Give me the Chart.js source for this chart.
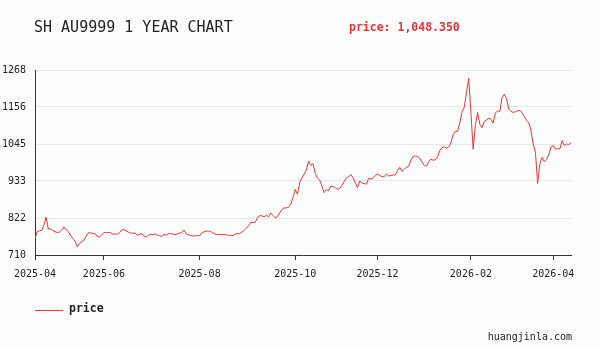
<!DOCTYPE html>
<html>
<head>
<meta charset="utf-8">
<script src="https://cdn.jsdelivr.net/npm/chart.js@4"></script>
<style>
  html, body { margin: 0; padding: 0; background: #fcfefc; }
  #wrap { width: 600px; height: 350px; }
</style>
</head>
<body>
<div id="wrap"><canvas id="chartJSContainer" width="600" height="350"></canvas></div>
<script>

// daily closes, one per trading day
var prices = [
    760, 780, 783, 784, 800, 824, 788, 789, 784, 780,
    778, 779, 785, 795, 786, 781, 769, 760, 752, 735,
    745, 750, 755, 767, 777, 777, 775, 774, 766, 764,
    770, 778, 778, 778, 777, 773, 773, 773, 777, 786,
    786, 783, 779, 776, 776, 776, 770, 772, 775, 768,
    764, 770, 772, 771, 774, 770, 769, 766, 772, 770,
    774, 775, 773, 771, 774, 776, 777, 785, 774, 771,
    769, 767, 768, 769, 768, 777, 780, 782, 782, 781,
    776, 773, 772, 772, 772, 772, 771, 769, 769, 769,
    773, 775, 775, 779, 784, 791, 798, 808, 808, 809,
    821, 829, 828, 825, 830, 825, 837, 829, 822, 826,
    837, 847, 852, 852, 854, 864, 883, 908, 893, 928,
    942, 954, 966, 993, 980, 986, 956, 942, 936, 918,
    898, 908, 904, 918, 916, 913, 908, 911, 920, 931,
    943, 946, 953, 943, 928, 913, 933, 928, 925, 924,
    941, 939, 942, 950, 954, 950, 946, 946, 955, 948,
    950, 951, 952, 964, 974, 962, 968, 975, 977, 996,
    1007, 1009, 1007, 1002, 990, 980, 978, 991, 999, 996,
    997, 1006, 1025, 1034, 1036, 1032, 1036, 1048, 1072, 1083,
    1083, 1108, 1142, 1155, 1200, 1243, 1140, 1029, 1100, 1140,
    1104, 1094, 1113, 1117, 1122, 1120, 1108, 1138, 1145, 1143,
    1185, 1195, 1182, 1150, 1143, 1140, 1142, 1145, 1146, 1140,
    1127, 1116, 1110, 1085, 1045, 1020, 926, 985, 1005, 991,
    998, 1012, 1035, 1040, 1029, 1031, 1030, 1055, 1040, 1045,
    1043, 1048.35
];

// month labels and the trading-day index where each one sits
var monthTicks = ['2025-04', '2025-06', '2025-08', '2025-10', '2025-12', '2026-02', '2026-04'];
var monthIndex = [0, 31, 74, 117, 154, 196, 233];

var yTicks = [710, 821.6, 933.2, 1044.8, 1156.4, 1268];

var title = 'SH AU9999 1 YEAR CHART';
var lastPrice = 1048.350;
var seriesName = 'price';
var site = 'huangjinla.com';

var red = '#e8333d';
var mono = '"DejaVu Sans Mono", "Liberation Mono", monospace';

var points = prices.map(function (v, i) { return { x: i, y: v }; });

var extras = {
    id: 'extras',
    afterDraw: function (chart) {
        var ctx = chart.ctx;
        ctx.save();
        ctx.textBaseline = 'middle';

        ctx.fillStyle = '#222';
        ctx.font = '15px ' + mono;
        ctx.textAlign = 'left';
        ctx.fillText(title, 34, 28);

        ctx.fillStyle = red;
        ctx.font = 'bold 11.5px ' + mono;
        ctx.fillText(seriesName + ': ' + lastPrice.toLocaleString('en-US', { minimumFractionDigits: 3 }), 349, 28);

        // legend
        ctx.strokeStyle = red;
        ctx.lineWidth = 1;
        ctx.beginPath();
        ctx.moveTo(35, 310.5);
        ctx.lineTo(63, 310.5);
        ctx.stroke();
        ctx.fillStyle = '#222';
        ctx.font = 'bold 11.5px ' + mono;
        ctx.fillText(seriesName, 69, 309.5);

        ctx.font = '10px ' + mono;
        ctx.textAlign = 'right';
        ctx.fillText(site, 572, 337);
        ctx.restore();
    }
};

var options = {
    type: 'line',
    data: {
        datasets: [{
            label: seriesName,
            data: points,
            borderColor: red,
            borderWidth: 1,
            pointRadius: 0,
            tension: 0,
            fill: false
        }]
    },
    options: {
        responsive: false,
        animation: false,
        layout: { padding: { top: 70, right: 29, left: 0, bottom: 0 } },
        plugins: {
            legend: { display: false },
            tooltip: { enabled: false }
        },
        scales: {
            x: {
                type: 'linear',
                min: 0,
                max: prices.length - 1,
                afterBuildTicks: function (scale) {
                    scale.ticks = monthIndex.map(function (v) { return { value: v }; });
                },
                afterFit: function (scale) { scale.height = 95; },
                grid: {
                    drawOnChartArea: false,
                    drawTicks: true,
                    tickLength: 5,
                    color: '#333'
                },
                border: { color: '#333', width: 1 },
                ticks: {
                    autoSkip: false,
                    maxRotation: 0,
                    padding: 8,
                    color: '#222',
                    font: { family: mono, size: 10 },
                    callback: function (v) {
                        var k = monthIndex.indexOf(v);
                        return k < 0 ? '' : monthTicks[k];
                    }
                }
            },
            y: {
                min: yTicks[0],
                max: yTicks[yTicks.length - 1],
                afterBuildTicks: function (scale) {
                    scale.ticks = yTicks.map(function (v) { return { value: v }; });
                },
                afterFit: function (scale) { scale.width = 35; },
                grid: {
                    drawTicks: false,
                    color: '#e8e8ea'
                },
                border: { color: '#333', width: 1 },
                ticks: {
                    padding: 9,
                    color: '#222',
                    font: { family: mono, size: 10 },
                    callback: function (v) { return Math.round(v); }
                }
            }
        }
    },
    plugins: [extras]
};

var ctx = document.getElementById('chartJSContainer').getContext('2d');
new Chart(ctx, options);
</script>
</body>
</html>
